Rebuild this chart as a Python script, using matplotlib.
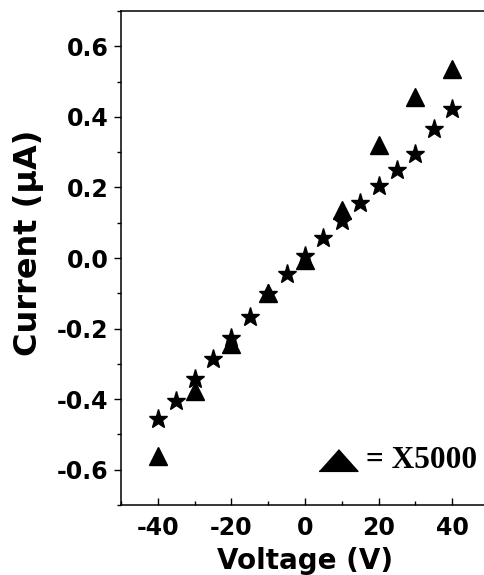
import matplotlib
matplotlib.use("Agg")
import matplotlib.pyplot as plt
from matplotlib.ticker import MultipleLocator

# Data
star_v = [-40, -35, -30, -25, -20, -15, -10, -5, 0, 5, 10, 15, 20, 25, 30, 35, 40]
star_i = [-0.456, -0.406, -0.344, -0.285, -0.226, -0.167, -0.102, -0.045, 0.006,
          0.056, 0.106, 0.155, 0.205, 0.250, 0.296, 0.366, 0.421]
tri_v = [-40, -30, -20, -10, 0, 10, 20, 30, 40]
tri_i = [-0.562, -0.377, -0.243, -0.100, -0.006, 0.136, 0.319, 0.456, 0.536]

x_ticks = [-40, -20, 0, 20, 40]
y_ticks = [-0.6, -0.4, -0.2, 0.0, 0.2, 0.4, 0.6]
legend_text = "= X5000"

W, H = 485, 575
fig = plt.figure(figsize=(W / 100, H / 100), dpi=100)
left, right, top, bottom = 121, 489, 11, 505
ax = fig.add_axes([left / W, 1 - bottom / H, (right - left) / W, (bottom - top) / H])

ax.plot(star_v, star_i, linestyle="none", marker="*", markersize=14, color="black")
ax.plot(tri_v, tri_i, linestyle="none", marker="^", markersize=13, color="black")

ax.set_xlim(-50, 50)
ax.set_ylim(-0.7, 0.7)
ax.set_xticks(x_ticks)
ax.set_yticks(y_ticks)
ax.set_xticklabels([f"{v:d}" for v in x_ticks])
ax.set_yticklabels([f"{v:.1f}" for v in y_ticks])
ax.xaxis.set_minor_locator(MultipleLocator(10))
ax.yaxis.set_minor_locator(MultipleLocator(0.1))

ax.tick_params(axis="x", which="major", direction="in", length=5, width=1, pad=8)
ax.tick_params(axis="x", which="minor", direction="in", length=3, width=1)
ax.tick_params(axis="y", which="major", direction="out", length=5, width=1, pad=4)
ax.tick_params(axis="y", which="minor", direction="out", length=3, width=1)
ax.tick_params(top=False, right=False, which="both")

for lab in ax.get_xticklabels() + ax.get_yticklabels():
    lab.set_fontfamily("DejaVu Sans")
    lab.set_fontweight("bold")
    lab.set_fontsize(17)

for s in ax.spines.values():
    s.set_linewidth(1.1)

ax.set_xlabel("Voltage (V)", fontsize=20, fontweight="bold", family="DejaVu Sans")
ax.xaxis.set_label_coords(0.5, -0.086)
ax.xaxis.label.set_va("top")
ax.set_ylabel("Current (\u03bcA)", fontsize=23, fontweight="bold", family="DejaVu Sans")
ax.yaxis.set_label_coords(-0.25, 0.531)
ax.yaxis.label.set_va("center")

# legend-like annotation
tri_marker = [(-1, -0.56), (1, -0.56), (0, 0.56)]
ax.plot([0.59], [0.091], transform=ax.transAxes, marker=tri_marker, markersize=28,
        color="black", linestyle="none", clip_on=False)
ax.text(0.665, 0.091, legend_text, transform=ax.transAxes, fontsize=22.5,
        fontweight="bold", family="Liberation Serif", va="center", ha="left")

fig.savefig("out.png", dpi=100)
